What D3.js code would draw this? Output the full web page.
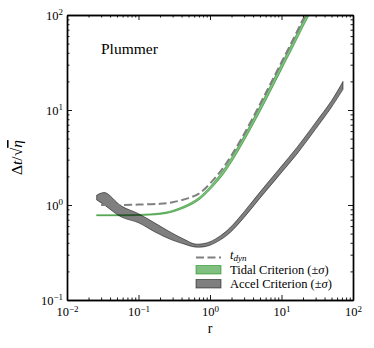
<!DOCTYPE html>
<html>
<head>
<meta charset="utf-8">
<script src="https://cdn.jsdelivr.net/npm/d3@7"></script>
<style>
  body { margin: 0; background: #fff; }
  svg, svg text { font-family: "Liberation Serif", "DejaVu Serif", "Noto Serif", "Times New Roman", Times, serif; fill: #000; }
</style>
</head>
<body>
<div id="chart"></div>
<script>
/* ---- data ---- */
const rDyn = [0.03, 0.05, 0.1, 0.2, 0.3, 0.5, 0.7, 1, 1.5, 2, 3, 5, 7, 10, 15, 20, 25];
const tDyn = [1.0, 1.0, 1.01, 1.03, 1.07, 1.18, 1.32, 1.68, 2.42, 3.34, 5.6, 11.5, 18.8, 31.8, 58, 90, 125];

const rTidal  = [0.026, 0.05, 0.1, 0.2, 0.3, 0.5, 0.7, 1, 1.5, 2, 3, 5, 7, 10, 15, 20, 25, 30];
const tidalLo = [0.771, 0.771, 0.775, 0.797, 0.843, 0.975, 1.13, 1.45, 2.06, 2.83, 4.75, 9.6, 15.7, 26.6, 48.5, 75, 104, 136];
const tidalHi = [0.789, 0.789, 0.795, 0.823, 0.877, 1.025, 1.2, 1.56, 2.28, 3.17, 5.35, 11.0, 18.1, 30.6, 55.8, 86, 120, 156];

const rAccel  = [0.026, 0.034, 0.057, 0.1, 0.17, 0.29, 0.45, 0.6, 0.8, 1.0, 1.4, 1.9, 3, 5, 9.5, 16.5, 30, 50, 72.5];
const accelLo = [1.13, 0.99, 0.75, 0.65, 0.52, 0.43, 0.385, 0.362, 0.362, 0.377, 0.43, 0.51, 0.74, 1.18, 2.1, 3.45, 6.3, 10.7, 16.5];
const accelHi = [1.27, 1.35, 0.98, 0.81, 0.645, 0.51, 0.43, 0.39, 0.392, 0.41, 0.475, 0.575, 0.85, 1.37, 2.45, 4.05, 7.4, 12.5, 20];

const xMajor = [1e-2, 1e-1, 1e0, 1e1, 1e2];
const yMajor = [1e-1, 1e0, 1e1, 1e2];
const xExp = [-2, -1, 0, 1, 2];
const yExp = [-1, 0, 1, 2];

/* ---- layout ---- */
const W = 374, H = 348;
const L = 67, R = 353, T = 15, B = 300;
const SERIF = "'Liberation Serif', 'DejaVu Serif', 'Noto Serif', 'Times New Roman', serif";

const svg = d3.select("#chart").append("svg")
  .attr("width", W).attr("height", H)
  .attr("font-family", SERIF);

const x = d3.scaleLog().domain([1e-2, 1e2]).range([L, R]);
const y = d3.scaleLog().domain([1e-1, 1e2]).range([B, T]);

function minors(lo, hi) {
  const out = [];
  for (let e = lo; e < hi; e++)
    for (let k = 2; k <= 9; k++) out.push(k * Math.pow(10, e));
  return out;
}
const xMinor = minors(-2, 2), yMinor = minors(-1, 2);

svg.append("clipPath").attr("id", "clip")
  .append("rect").attr("x", L).attr("y", T).attr("width", R - L).attr("height", B - T);

const plot = svg.append("g").attr("clip-path", "url(#clip)");

function band(rs, lo, hi) {
  return d3.area().curve(d3.curveCatmullRom)
    .x((d, i) => x(rs[i])).y0((d, i) => y(lo[i])).y1((d, i) => y(hi[i]))(rs);
}

// tidal band
plot.append("path")
  .attr("d", band(rTidal, tidalLo, tidalHi))
  .attr("fill", "rgba(0,128,0,0.5)")
  .attr("stroke", "rgba(0,128,0,0.5)")
  .attr("stroke-width", 1);

// accel band
plot.append("path")
  .attr("d", band(rAccel, accelLo, accelHi))
  .attr("fill", "rgba(0,0,0,0.5)")
  .attr("stroke", "rgba(0,0,0,0.5)")
  .attr("stroke-width", 1);

// dynamical time
plot.append("path")
  .attr("d", d3.line().curve(d3.curveCatmullRom)
    .x((d, i) => x(rDyn[i])).y((d, i) => y(tDyn[i]))(rDyn))
  .attr("fill", "none")
  .attr("stroke", "#808080")
  .attr("stroke-width", 2)
  .attr("stroke-dasharray", "8,3.5");

/* ---- axes (inward ticks on all four sides) ---- */
function styleAxis(g) {
  g.attr("font-family", SERIF);
  g.select(".domain").attr("stroke", "#000").attr("stroke-width", 1.4);
  g.selectAll(".tick line").attr("stroke", "#000").attr("stroke-width", 0.9);
}

function powLabel(sel, exps) {
  sel.each(function(d, i) {
    const t = d3.select(this).text(null).attr("font-size", 12.5);
    t.append("tspan").text("10");
    t.append("tspan").attr("dy", "-0.45em").attr("font-size", "0.72em")
      .text(exps[i] < 0 ? "\u2212" + (-exps[i]) : exps[i]);
  });
}

const xb = svg.append("g").attr("transform", `translate(0,${B})`);
xb.append("g").call(d3.axisBottom(x).tickValues(xMinor).tickSize(-2.5).tickSizeOuter(0).tickFormat(""))
  .call(styleAxis);
xb.append("g").call(d3.axisBottom(x).tickValues(xMajor).tickSize(-5).tickSizeOuter(0).tickPadding(7))
  .call(styleAxis)
  .selectAll("text").call(powLabel, xExp);

const xt = svg.append("g").attr("transform", `translate(0,${T})`);
xt.append("g").call(d3.axisTop(x).tickValues(xMinor).tickSize(-2.5).tickSizeOuter(0).tickFormat("")).call(styleAxis);
xt.append("g").call(d3.axisTop(x).tickValues(xMajor).tickSize(-5).tickSizeOuter(0).tickFormat("")).call(styleAxis);

const yl = svg.append("g").attr("transform", `translate(${L},0)`);
yl.append("g").call(d3.axisLeft(y).tickValues(yMinor).tickSize(-2.5).tickSizeOuter(0).tickFormat(""))
  .call(styleAxis);
yl.append("g").call(d3.axisLeft(y).tickValues(yMajor).tickSize(-5).tickSizeOuter(0).tickPadding(4))
  .call(styleAxis)
  .selectAll("text").call(powLabel, yExp);

const yr = svg.append("g").attr("transform", `translate(${R},0)`);
yr.append("g").call(d3.axisRight(y).tickValues(yMinor).tickSize(-2.5).tickSizeOuter(0).tickFormat("")).call(styleAxis);
yr.append("g").call(d3.axisRight(y).tickValues(yMajor).tickSize(-5).tickSizeOuter(0).tickFormat("")).call(styleAxis);

/* ---- labels ---- */
svg.append("text").attr("x", (L + R) / 2).attr("y", 333)
  .attr("text-anchor", "middle").attr("font-size", 14).text("r");

const ylab = svg.append("text")
  .attr("transform", `translate(22,${(T + B) / 2}) rotate(-90)`)
  .attr("text-anchor", "middle").attr("font-size", 15.5);
ylab.append("tspan").text("\u0394");
ylab.append("tspan").attr("font-style", "italic").text("t");
ylab.append("tspan").text("/\u221A");
ylab.append("tspan").attr("font-style", "italic")
  .attr("text-decoration", "overline").text("\u03B7");

svg.append("text").attr("x", 101).attr("y", 54)
  .attr("font-size", 15.5).text("Plummer");

/* ---- legend ---- */
const leg = svg.append("g");
const hx = 196, hw = 25, tx = 230;
leg.append("line").attr("x1", hx).attr("x2", hx + hw).attr("y1", 257.5).attr("y2", 257.5)
  .attr("stroke", "#808080").attr("stroke-width", 2).attr("stroke-dasharray", "8,3.5");
leg.append("rect").attr("x", hx).attr("y", 265.5).attr("width", hw).attr("height", 8.5)
  .attr("fill", "rgba(0,128,0,0.5)").attr("stroke", "rgba(0,128,0,0.5)");
leg.append("rect").attr("x", hx).attr("y", 279.5).attr("width", hw).attr("height", 8.5)
  .attr("fill", "rgba(0,0,0,0.5)").attr("stroke", "rgba(0,0,0,0.5)");

const t1 = leg.append("text").attr("x", tx).attr("y", 259).attr("font-size", 12.5);
t1.append("tspan").attr("font-style", "italic").text("t");
t1.append("tspan").attr("font-style", "italic").attr("font-size", "0.72em").attr("dy", "0.25em").text("dyn");

const t2 = leg.append("text").attr("x", tx).attr("y", 274).attr("font-size", 12.5);
t2.append("tspan").text("Tidal Criterion (\u00B1");
t2.append("tspan").attr("font-style", "italic").text("\u03C3");
t2.append("tspan").text(")");

const t3 = leg.append("text").attr("x", tx).attr("y", 288).attr("font-size", 12.5);
t3.append("tspan").text("Accel Criterion (\u00B1");
t3.append("tspan").attr("font-style", "italic").text("\u03C3");
t3.append("tspan").text(")");
</script>
</body>
</html>
